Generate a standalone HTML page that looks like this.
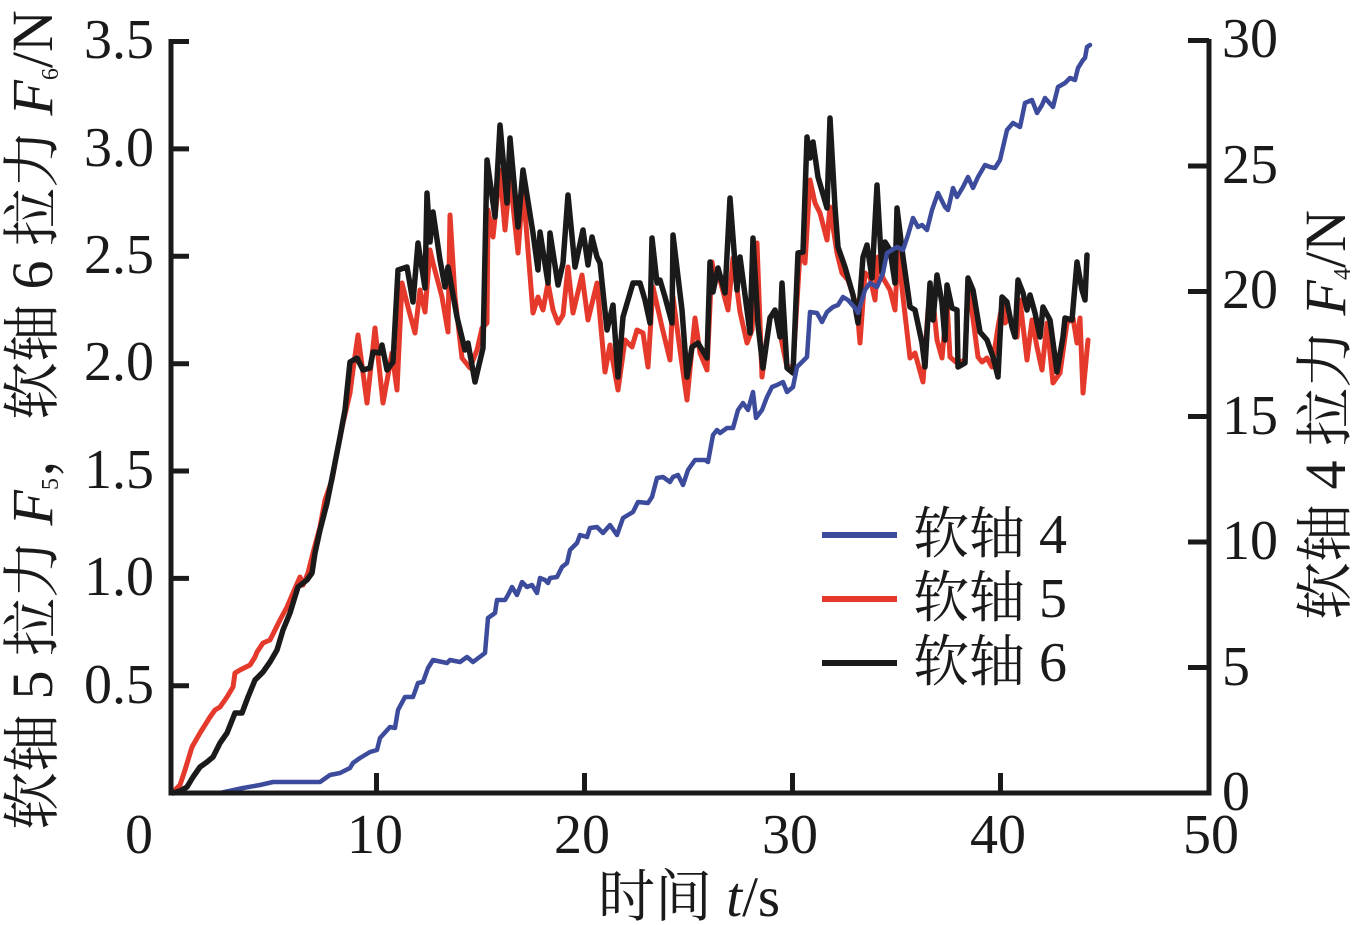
<!DOCTYPE html>
<html>
<head>
<meta charset="utf-8">
<style>
html,body{margin:0;padding:0;background:#fff;}
svg{display:block;}
text{font-family:"Liberation Serif","Noto Serif CJK SC",serif;fill:#1a1a1a;}
</style>
</head>
<body>
<svg width="1358" height="925" viewBox="0 0 1358 925" xmlns="http://www.w3.org/2000/svg">
<rect width="1358" height="925" fill="#fff"/>

<!-- data series -->
<g fill="none" stroke-linejoin="round" stroke-linecap="round">
<polyline stroke="#e53a2b" stroke-width="5" points="173,792 180,785 185,770 192,747 200,733 210,717 215,710 220,707 227,697 233,687 235,673 240,670 250,665 255,657 257,652 263,643 270,640 275,630 280,620 287,607 293,593 300,577 303,585 308,573 313,553 320,527 325,500 332,480 337,453 343,423 350,393 353,370 358,335 367,403 375,328 383,403 392,353 397,390 402,283 408,307 415,333 420,290 425,312 430,250 433,263 442,297 448,332 450,215 455,297 462,358 470,368 477,350 482,328 487,323 488,210 493,237 500,170 505,230 510,177 518,253 523,187 533,313 538,297 543,310 548,283 553,310 558,323 563,315 568,267 573,313 582,275 588,320 597,283 600,317 605,372 610,345 618,390 625,340 632,347 637,330 643,333 648,367 653,287 662,327 670,360 673,297 680,350 687,400 695,318 700,353 707,370 712,262 715,280 720,280 728,310 733,258 740,312 747,343 752,330 757,243 762,377 770,317 777,313 782,343 787,367 793,367 800,253 805,263 810,180 815,203 820,213 827,240 830,207 837,253 842,273 848,280 857,307 860,343 865,273 870,277 875,300 878,257 883,278 890,290 895,310 898,250 903,297 910,358 915,353 923,382 928,310 932,290 937,340 942,358 947,303 950,357 957,363 965,360 968,280 978,357 982,362 987,358 992,367 998,327 1003,300 1005,323 1010,317 1017,337 1020,300 1027,360 1032,320 1037,347 1042,370 1047,323 1053,383 1060,373 1067,323 1073,318 1077,343 1080,318 1083,393 1088,340"/>
<polyline stroke="#1a1a1a" stroke-width="5.5" points="173,793 180,791 187,787 193,777 200,767 207,762 213,757 220,743 227,733 235,713 242,713 248,697 255,680 263,672 270,662 277,650 283,630 290,613 298,587 307,580 312,573 315,553 320,530 327,503 333,473 340,437 345,410 350,362 357,358 363,370 370,368 373,352 380,353 382,345 387,370 393,362 398,270 407,267 413,302 418,243 425,288 427,193 430,242 433,212 440,260 445,287 448,267 457,317 465,350 468,343 475,382 483,348 487,160 495,217 500,125 507,203 510,138 518,227 523,170 533,233 538,270 540,232 548,283 550,233 558,285 563,263 568,195 575,267 583,230 588,265 592,237 597,257 600,263 607,330 613,305 618,377 623,317 628,300 633,283 640,283 645,300 650,323 652,238 657,283 660,280 665,297 672,323 673,235 682,310 687,377 692,347 698,343 707,358 710,262 713,292 718,268 725,293 730,198 737,290 740,257 750,333 753,238 758,325 763,368 770,318 775,310 780,337 782,283 787,368 793,373 798,253 803,252 807,137 810,158 813,142 818,177 827,208 830,118 835,207 838,247 845,267 853,295 858,323 863,257 867,245 872,278 877,185 882,273 885,242 890,250 895,283 897,208 903,257 910,307 915,310 922,343 925,367 930,283 933,320 937,275 942,303 945,340 947,285 952,308 957,310 958,367 965,363 968,278 973,290 980,332 987,340 993,357 998,377 1002,297 1007,302 1012,327 1015,337 1018,280 1023,293 1027,310 1030,295 1035,313 1040,337 1043,307 1050,320 1057,372 1063,337 1065,318 1072,320 1077,262 1082,290 1085,300 1087,255"/>
<polyline stroke="#3c4b9b" stroke-width="4.5" points="220,793 243,788 260,785 273,782 293,782 320,782 330,775 340,773 350,768 353,763 360,758 370,752 377,750 380,738 390,727 395,728 398,710 405,697 413,697 418,683 423,682 428,668 433,660 447,663 450,660 460,662 467,657 473,662 485,653 488,618 495,613 497,600 505,600 508,595 512,587 517,595 522,582 527,587 532,585 537,593 540,578 545,580 548,583 550,578 557,577 562,567 567,563 570,550 577,543 580,535 587,537 590,528 597,527 603,533 610,525 617,535 623,518 633,512 638,502 648,503 652,497 657,478 663,477 670,482 673,477 678,475 683,485 688,470 695,460 705,460 708,462 713,435 717,430 720,433 727,428 733,428 738,410 743,403 748,410 753,392 756,418 762,410 767,397 772,387 777,385 783,382 787,392 793,387 797,367 807,357 810,312 817,313 822,322 827,312 833,307 838,305 843,297 848,300 855,308 858,313 865,290 870,283 877,287 883,273 887,253 897,247 903,250 908,235 913,218 918,227 922,225 927,230 932,210 938,193 945,207 948,210 953,188 957,197 963,187 968,177 973,188 978,177 985,165 990,167 995,168 1000,160 1007,130 1013,123 1020,127 1025,103 1032,100 1037,113 1042,105 1045,98 1053,107 1058,87 1065,83 1070,78 1075,80 1078,68 1083,60 1085,58 1087,47 1090,45"/>
</g>

<!-- axes -->
<g stroke="#1a1a1a" stroke-width="5" fill="none">
<line x1="171" y1="39" x2="171" y2="795.5"/>
<line x1="1209" y1="39" x2="1209" y2="795.5"/>
<line x1="168.5" y1="793" x2="1211.5" y2="793"/>
<!-- left ticks -->
<line x1="171" y1="41.5" x2="189" y2="41.5"/>
<line x1="171" y1="148.9" x2="189" y2="148.9"/>
<line x1="171" y1="256.3" x2="189" y2="256.3"/>
<line x1="171" y1="363.7" x2="189" y2="363.7"/>
<line x1="171" y1="471" x2="189" y2="471"/>
<line x1="171" y1="578.4" x2="189" y2="578.4"/>
<line x1="171" y1="685.8" x2="189" y2="685.8"/>
<!-- right ticks -->
<line x1="1188" y1="40.5" x2="1209" y2="40.5"/>
<line x1="1188" y1="166" x2="1209" y2="166"/>
<line x1="1188" y1="291.5" x2="1209" y2="291.5"/>
<line x1="1188" y1="416.5" x2="1209" y2="416.5"/>
<line x1="1188" y1="542" x2="1209" y2="542"/>
<line x1="1188" y1="667.5" x2="1209" y2="667.5"/>
<!-- x ticks -->
<line x1="376.5" y1="793" x2="376.5" y2="773"/>
<line x1="584.5" y1="793" x2="584.5" y2="773"/>
<line x1="792.5" y1="793" x2="792.5" y2="773"/>
<line x1="1000.5" y1="793" x2="1000.5" y2="773"/>
</g>

<!-- left tick labels -->
<g font-size="56" text-anchor="end">
<text x="154" y="58">3.5</text>
<text x="154" y="166">3.0</text>
<text x="154" y="273">2.5</text>
<text x="154" y="380">2.0</text>
<text x="154" y="488">1.5</text>
<text x="154" y="595">1.0</text>
<text x="154" y="703">0.5</text>
</g>
<!-- right tick labels -->
<g font-size="56" text-anchor="start">
<text x="1222" y="57">30</text>
<text x="1222" y="183">25</text>
<text x="1222" y="308">20</text>
<text x="1222" y="434">15</text>
<text x="1222" y="559">10</text>
<text x="1222" y="685">5</text>
<text x="1222" y="810">0</text>
</g>
<!-- x tick labels -->
<g font-size="56" text-anchor="middle">
<text x="139" y="853">0</text>
<text x="375" y="853">10</text>
<text x="582" y="853">20</text>
<text x="790" y="853">30</text>
<text x="998" y="853">40</text>
<text x="1211" y="853">50</text>
</g>

<!-- x title -->
<text x="598" y="916" font-size="57" style="white-space:pre">时间 <tspan font-style="italic">t</tspan>/s</text>

<!-- left y title -->
<text transform="translate(52,830) rotate(-90)" font-size="58" style="white-space:pre">软轴 5 拉力 <tspan font-style="italic">F</tspan><tspan font-size="24" dy="6">5</tspan><tspan dy="-6">，软轴 6 拉力 </tspan><tspan font-style="italic">F</tspan><tspan font-size="24" dy="6">6</tspan><tspan dy="-6">/N</tspan></text>

<!-- right y title -->
<text transform="translate(1345,620) rotate(-90)" font-size="58" style="white-space:pre">软轴 4 拉力 <tspan font-style="italic">F</tspan><tspan font-size="24" dy="5">4</tspan><tspan dy="-5">/N</tspan></text>

<!-- legend -->
<g stroke-width="6">
<line x1="822" y1="535" x2="897" y2="535" stroke="#3c4b9b"/>
<line x1="822" y1="599" x2="897" y2="599" stroke="#e53a2b"/>
<line x1="822" y1="663" x2="897" y2="663" stroke="#1a1a1a"/>
</g>
<g font-size="56" style="white-space:pre">
<text x="913" y="553">软轴 4</text>
<text x="913" y="617">软轴 5</text>
<text x="913" y="681">软轴 6</text>
</g>
</svg>
</body>
</html>
